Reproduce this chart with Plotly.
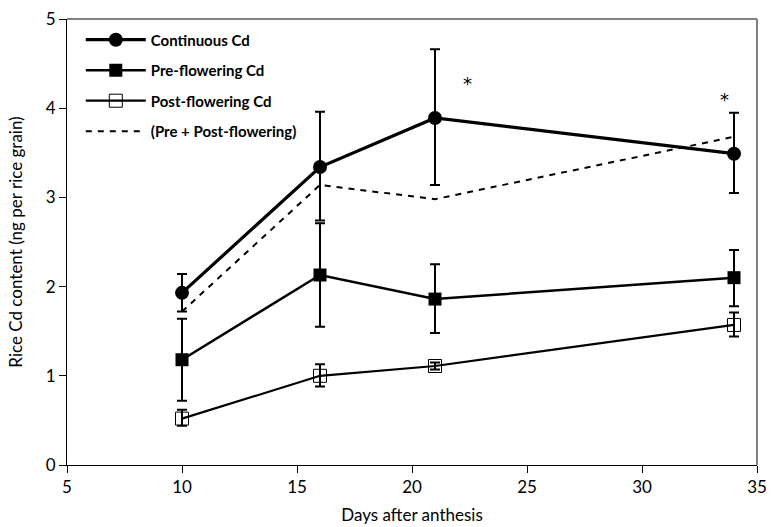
import plotly.graph_objects as go

days = [10, 16, 21, 34]
cont = [1.93, 3.34, 3.89, 3.49]
cont_hi = [2.14, 3.96, 4.66, 3.95]
cont_lo = [1.72, 2.74, 3.14, 3.05]
pre = [1.18, 2.13, 1.86, 2.10]
pre_hi = [1.64, 2.71, 2.25, 2.41]
pre_lo = [0.72, 1.55, 1.48, 1.78]
post = [0.52, 1.00, 1.11, 1.57]
post_hi = [0.62, 1.13, 1.15, 1.71]
post_lo = [0.44, 0.88, 1.07, 1.44]
sum_pp = [1.72, 3.14, 2.98, 3.68]
star_x = [22.4, 33.6]
star_y = [4.28, 4.10]

def err(v, hi, lo):
    return dict(type="data", symmetric=False,
                array=[h - x for h, x in zip(hi, v)],
                arrayminus=[x - l for x, l in zip(v, lo)],
                color="black", thickness=2, width=5)

fig = go.Figure()
fig.add_trace(go.Scatter(x=days, y=cont, name="Continuous Cd", mode="lines+markers",
                         line=dict(color="black", width=3.2),
                         marker=dict(symbol="circle", size=14, color="black"),
                         error_y=err(cont, cont_hi, cont_lo), legendgroup="a"))
fig.add_trace(go.Scatter(x=days, y=pre, name="Pre-flowering Cd", mode="lines+markers",
                         line=dict(color="black", width=2.5),
                         marker=dict(symbol="square", size=13, color="black"),
                         error_y=err(pre, pre_hi, pre_lo), legendgroup="b"))
fig.add_trace(go.Scatter(x=days, y=post, name="Post-flowering Cd", mode="lines+markers",
                         line=dict(color="black", width=2.2),
                         marker=dict(symbol="square-open", size=13, color="black", line=dict(width=1)),
                         error_y=err(post, post_hi, post_lo), legendgroup="c"))
fig.add_trace(go.Scatter(x=days, y=sum_pp, name="(Pre + Post-flowering)", mode="lines",
                         line=dict(color="black", width=2, dash="6px,6px"), legendgroup="d"))

for sx, sy in zip(star_x, star_y):
    fig.add_annotation(x=sx, y=sy, text="*", showarrow=False,
                       font=dict(size=18, color="black", family="DejaVu Sans"))

fig.add_shape(type="line", xref="paper", yref="paper", x0=0, x1=1, y0=1, y1=1,
              line=dict(color="#808080", width=2))
fig.add_shape(type="line", xref="paper", yref="paper", x0=1, x1=1, y0=0, y1=1,
              line=dict(color="#808080", width=2))

font = "Lato, Open Sans, sans-serif"
fig.update_layout(
    width=772, height=527,
    margin=dict(l=67, r=5, t=19, b=62),
    paper_bgcolor="white", plot_bgcolor="white",
    font=dict(family=font, size=17, color="black"),
    showlegend=True,
    legend=dict(x=0.02, y=0.99, xanchor="left", yanchor="top",
                font=dict(size=15, family=font, weight="bold"),
                itemwidth=60, tracegroupgap=8, bgcolor="rgba(0,0,0,0)"),
    xaxis=dict(range=[5, 35], tickvals=[5, 10, 15, 20, 25, 30, 35],
               showgrid=False, zeroline=False, showline=True, linecolor="black", linewidth=1,
               ticks="outside", ticklen=7, tickcolor="black", ticklabeloverflow="allow",
               title=dict(text="Days after anthesis", font=dict(size=17), standoff=12)),
    yaxis=dict(range=[0, 5], tickvals=[0, 1, 2, 3, 4, 5],
               showgrid=False, zeroline=False, showline=True, linecolor="black", linewidth=1,
               ticks="outside", ticklen=7, tickcolor="black",
               title=dict(text="Rice Cd content (ng per rice grain)", font=dict(size=17), standoff=18)),
)
fig.write_html("out.html", config={"displayModeBar": False},
               post_script="document.body.style.margin='0';document.body.style.overflow='hidden';")
